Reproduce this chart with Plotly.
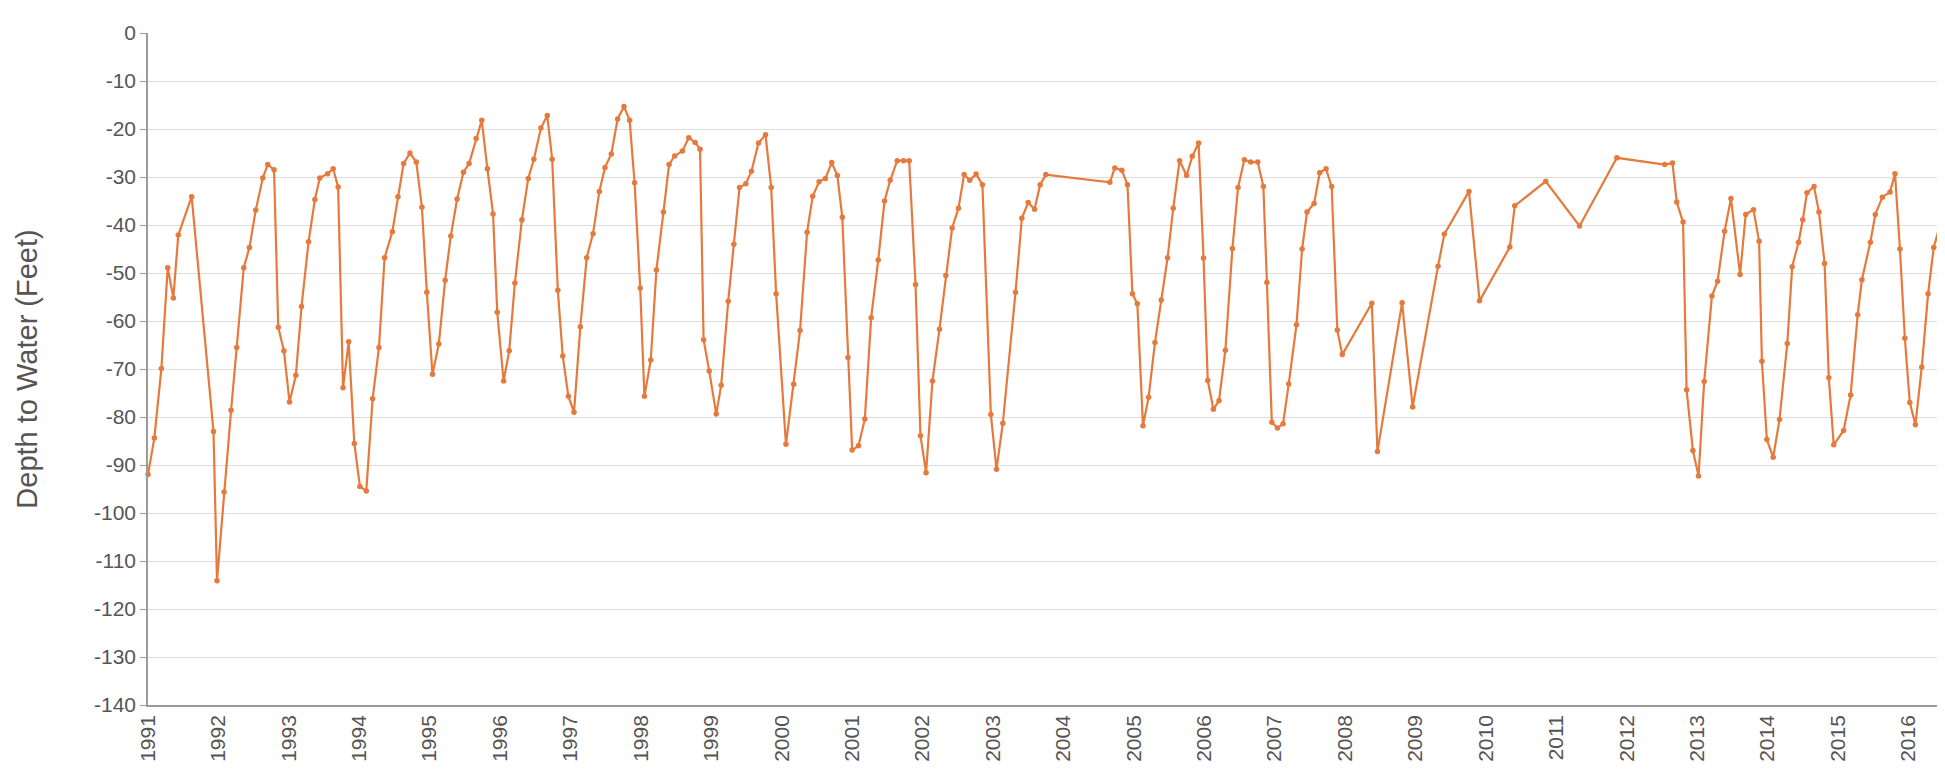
import plotly.graph_objects as go

# Decimal-year dates of measurements
years = [
    1991.00, 1991.09, 1991.19, 1991.28, 1991.36, 1991.43, 1991.62, 1991.93, 1991.98,
    1992.08, 1992.18, 1992.26, 1992.36, 1992.44, 1992.53, 1992.63, 1992.70, 1992.79, 1992.85, 1992.93,
    1993.01, 1993.10, 1993.18, 1993.28, 1993.37, 1993.44, 1993.55, 1993.63, 1993.70, 1993.77, 1993.85, 1993.93,
    1994.01, 1994.10, 1994.19, 1994.28, 1994.36, 1994.47, 1994.55, 1994.63, 1994.72, 1994.81, 1994.89, 1994.96,
    1995.04, 1995.13, 1995.22, 1995.30, 1995.39, 1995.48, 1995.56, 1995.66, 1995.74, 1995.82, 1995.90, 1995.96,
    1996.05, 1996.13, 1996.21, 1996.31, 1996.40, 1996.48, 1996.58, 1996.67, 1996.74, 1996.82, 1996.89, 1996.97,
    1997.05, 1997.14, 1997.23, 1997.32, 1997.41, 1997.49, 1997.58, 1997.67, 1997.76, 1997.84, 1997.91, 1997.99,
    1998.05, 1998.14, 1998.22, 1998.32, 1998.40, 1998.48, 1998.59, 1998.68, 1998.77, 1998.84, 1998.89, 1998.97,
    1999.07, 1999.14, 1999.24, 1999.32, 1999.40, 1999.49, 1999.57, 1999.67, 1999.77, 1999.85, 1999.92,
    2000.06, 2000.17, 2000.26, 2000.36, 2000.44, 2000.53, 2000.62, 2000.71, 2000.79, 2000.86, 2000.94,
    2001.00, 2001.09, 2001.18, 2001.27, 2001.37, 2001.46, 2001.54, 2001.64, 2001.73, 2001.81, 2001.90, 2001.97,
    2002.05, 2002.14, 2002.24, 2002.33, 2002.42, 2002.51, 2002.59, 2002.67, 2002.76, 2002.85, 2002.97,
    2003.05, 2003.14, 2003.32, 2003.41, 2003.50, 2003.59, 2003.67, 2003.75,
    2004.66, 2004.73, 2004.83, 2004.91, 2004.98,
    2005.05, 2005.13, 2005.21, 2005.30, 2005.39, 2005.48, 2005.56, 2005.65, 2005.75, 2005.83, 2005.92, 2005.99,
    2006.05, 2006.13, 2006.21, 2006.30, 2006.40, 2006.48, 2006.57, 2006.66, 2006.76, 2006.84, 2006.89, 2006.96,
    2007.04, 2007.12, 2007.20, 2007.31, 2007.39, 2007.46, 2007.56, 2007.64, 2007.73, 2007.81, 2007.89, 2007.96,
    2008.38, 2008.46, 2008.81, 2008.96,
    2009.32, 2009.41, 2009.76, 2009.91,
    2010.34, 2010.41, 2010.85, 2011.33, 2011.86, 2012.54, 2012.65, 2012.71, 2012.80, 2012.85, 2012.94,
    2013.02, 2013.10, 2013.21, 2013.29, 2013.39, 2013.48, 2013.61, 2013.69, 2013.80, 2013.88, 2013.92, 2013.99,
    2014.08, 2014.17, 2014.28, 2014.35, 2014.44, 2014.50, 2014.56, 2014.66, 2014.73, 2014.81, 2014.87, 2014.94,
    2015.08, 2015.18, 2015.28, 2015.34, 2015.46, 2015.53, 2015.63, 2015.74, 2015.81, 2015.88, 2015.95,
    2016.02, 2016.10, 2016.19, 2016.28, 2016.36, 2016.45, 2016.50,
]

# Depth to water (feet, negative = below surface)
depth = [
    -92.0, -84.4, -69.9, -48.9, -55.2, -42.1, -34.1, -83.0, -114.1,
    -95.6, -78.6, -65.5, -48.9, -44.7, -36.9, -30.2, -27.4, -28.5, -61.3, -66.2,
    -76.9, -71.3, -57.0, -43.5, -34.7, -30.2, -29.3, -28.3, -32.1, -73.9, -64.3, -85.5,
    -94.5, -95.4, -76.2, -65.5, -46.8, -41.4, -34.1, -27.2, -25.0, -26.9, -36.3, -54.0,
    -71.1, -64.8, -51.5, -42.3, -34.6, -29.0, -27.2, -22.0, -18.2, -28.3, -37.7, -58.2,
    -72.5, -66.2, -52.1, -38.9, -30.3, -26.3, -19.8, -17.2, -26.3, -53.6, -67.3, -75.7,
    -79.0, -61.2, -46.8, -41.8, -33.0, -28.0, -25.2, -17.9, -15.3, -18.2, -31.2, -53.1,
    -75.7, -68.1, -49.4, -37.3, -27.4, -25.6, -24.6, -21.8, -22.8, -24.2, -63.9, -70.4,
    -79.4, -73.4, -55.9, -44.0, -32.2, -31.4, -28.8, -22.9, -21.2, -32.2, -54.3,
    -85.7, -73.2, -62.0, -41.5, -34.0, -31.0, -30.3, -27.0, -29.7, -38.4, -67.6,
    -86.9, -86.0, -80.4, -59.3, -47.3, -35.0, -30.7, -26.6, -26.6, -26.6, -52.4, -83.9,
    -91.6, -72.5, -61.7, -50.5, -40.6, -36.5, -29.5, -30.7, -29.4, -31.6, -79.5,
    -90.9, -81.3, -54.0, -38.6, -35.3, -36.7, -31.6, -29.5,
    -31.1, -28.1, -28.6, -31.6, -54.3,
    -56.4, -81.8, -75.9, -64.5, -55.6, -46.8, -36.5, -26.6, -29.7, -25.7, -22.9, -46.9,
    -72.4, -78.4, -76.6, -66.1, -44.9, -32.2, -26.4, -26.9, -26.9, -32.0, -52.0, -81.1,
    -82.3, -81.4, -73.1, -60.8, -45.0, -37.3, -35.5, -29.1, -28.3, -32.0, -61.9, -67.0,
    -56.3, -87.2, -56.2, -77.9,
    -48.6, -41.9, -33.0, -55.8,
    -44.6, -36.0, -30.9, -40.2, -26.0, -27.4, -27.1, -35.2, -39.4, -74.3, -87.0,
    -92.3, -72.6, -54.8, -51.7, -41.3, -34.5, -50.3, -37.8, -36.8, -43.4, -68.4, -84.7,
    -88.4, -80.5, -64.7, -48.7, -43.6, -38.9, -33.3, -32.0, -37.3, -48.0, -71.8, -85.8,
    -82.8, -75.4, -58.7, -51.4, -43.6, -37.8, -34.2, -33.1, -29.3, -45.0, -63.6,
    -77.0, -81.6, -69.6, -54.3, -44.7, -39.6, -37.3,
]

tick_years = list(range(1991, 2017))
tick_labels = [str(y) for y in tick_years]
y_ticks = list(range(-140, 1, 10))

FONT = "Liberation Sans, Arial, sans-serif"
ORANGE = "#E57A3C"

fig = go.Figure()
fig.add_trace(go.Scatter(
    x=years, y=depth, mode="lines+markers",
    line=dict(color=ORANGE, width=2.2),
    marker=dict(color=ORANGE, size=5.5),
    showlegend=False, cliponaxis=False,
))

fig.update_layout(
    width=1945, height=783, autosize=False,
    margin=dict(l=140, r=8, t=25, b=86),
    paper_bgcolor="white", plot_bgcolor="white",
    font=dict(family=FONT, color="#555555"),
)
fig.update_xaxes(
    range=[1991, 2016.52], tickmode="array", tickvals=tick_years, ticktext=tick_labels,
    tickangle=-90, showgrid=False, zeroline=False,
    showline=True, linecolor="#9a9a9a", linewidth=1.5,
    ticks="", tickfont=dict(size=21, color="#555555", family=FONT),
)
fig.update_yaxes(
    range=[-140, 0], tickmode="array", tickvals=y_ticks, ticktext=[str(v) for v in y_ticks],
    showgrid=True, gridcolor="#dedede", gridwidth=1, zeroline=False,
    showline=True, linecolor="#9a9a9a", linewidth=1.5,
    ticks="outside", ticklen=6, tickcolor="#9a9a9a",
    tickfont=dict(size=21, color="#555555", family=FONT),
    title=dict(text="Depth to Water (Feet)", font=dict(size=29, color="#555555", family=FONT), standoff=48),
)

fig.write_html("out.html")
